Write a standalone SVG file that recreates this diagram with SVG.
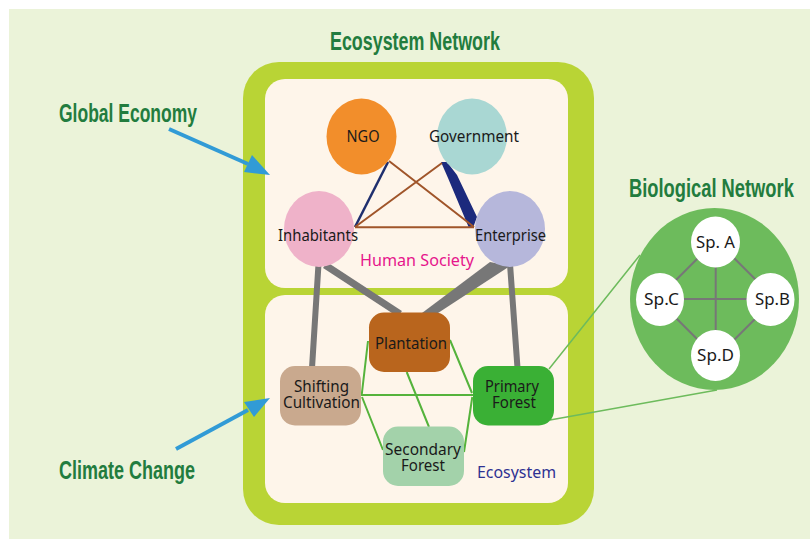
<svg xmlns="http://www.w3.org/2000/svg" width="810" height="540" viewBox="0 0 810 540">
<style>
.t{font-family:"Noto Sans","Open Sans","Liberation Sans",sans-serif;font-size:15.5px;fill:#1a1a1a;text-anchor:middle}
.s{font-family:"Noto Sans","Open Sans","Liberation Sans",sans-serif;font-size:16.5px}
.h{font-family:"Liberation Sans",sans-serif;font-weight:700;font-size:25px;fill:#227c3e}
.g{stroke:#777;fill:none}
.br{stroke:#a0552a;stroke-width:2;fill:none}
.gr{stroke:#55b33c;stroke-width:2;fill:none}
.sp{stroke:#777;stroke-width:2;fill:none}
.lk{stroke:#6dbb5c;stroke-width:1.5;fill:none}
.w{fill:#fff}
.ar{fill:#319bd6}
.as{stroke:#319bd6;stroke-width:4;fill:none}
</style>
<rect width="810" height="540" fill="#fff"/>
<rect x="9" y="9" width="801" height="530" fill="#ebf3d9"/>
<rect x="243" y="62" width="351" height="463" rx="36" fill="#b9d435"/>
<rect x="265" y="79" width="303" height="209" rx="20" fill="#fef5ea"/>
<rect x="265" y="295" width="303" height="208" rx="20" fill="#fef5ea"/>
<g id="connectors">
<path class="lk" d="M549 369L640 255M550 420L717 390"/>
<path class="g" stroke-width="6" d="M318.500 264L312 368M510 264L517.500 368"/>
<path class="g" stroke-width="7" d="M325 265L400 314"/>
<path d="M422 313H438L510 266L490 262Z" fill="#777"/>
<path d="M388 162L355 227" stroke="#1f2f6e" stroke-width="2.500" fill="none"/>
<path d="M441 162L447 162L457 175L477 217L473 228L469 228L448 178Z" fill="#1c2a7d"/>
<path class="br" d="M389 161L474 227M442 163L355 227M355 227.300H474"/>
<path class="gr" d="M368 341L361.700 395M450 340L472 393M361 395H473M362 397L383 450M406.700 372L429 427M472.300 397L464 452"/>
<path class="as" d="M169 129L248 164"/>
<path class="ar" d="M270 175L244 172L252 155Z"/>
<path class="as" d="M176 449L248 410"/>
<path class="ar" d="M270 398L254 417L244 402Z"/>
</g>
<g id="ngo"><ellipse cx="361.500" cy="136.500" rx="35" ry="38" fill="#f28e2b"/><text class="t" x="363" y="142" textLength="33" lengthAdjust="spacingAndGlyphs">NGO</text></g>
<g id="government"><ellipse cx="472" cy="136.500" rx="35" ry="38" fill="#a9d7d3"/><text class="t" x="474" y="142" textLength="90" lengthAdjust="spacingAndGlyphs">Government</text></g>
<g id="inhabitants"><ellipse cx="319" cy="229" rx="35" ry="38" fill="#efb2c9"/><text class="t" x="318" y="241" textLength="80" lengthAdjust="spacingAndGlyphs">Inhabitants</text></g>
<g id="enterprise"><ellipse cx="510" cy="229" rx="35" ry="38" fill="#b6b7db"/><text class="t" x="510.500" y="241" textLength="71" lengthAdjust="spacingAndGlyphs">Enterprise</text></g>
<g id="plantation"><rect x="369" y="312.500" width="81" height="59.500" rx="15" fill="#b9651d"/><text class="t" x="411" y="349" textLength="72" lengthAdjust="spacingAndGlyphs">Plantation</text></g>
<g id="shifting"><rect x="280" y="366" width="81" height="59.500" rx="15" fill="#c9a98e"/><text class="t"><tspan x="321.500" y="392" textLength="55" lengthAdjust="spacingAndGlyphs">Shifting</tspan><tspan x="321.500" y="408" textLength="77" lengthAdjust="spacingAndGlyphs">Cultivation</tspan></text></g>
<g id="primary"><rect x="473" y="366" width="81" height="59.500" rx="15" fill="#3ab035"/><text class="t"><tspan x="512" y="392" textLength="54" lengthAdjust="spacingAndGlyphs">Primary</tspan><tspan x="514" y="408" textLength="44" lengthAdjust="spacingAndGlyphs">Forest</tspan></text></g>
<g id="secondary"><rect x="383" y="426.500" width="81" height="59.500" rx="15" fill="#a3d2aa"/><text class="t"><tspan x="423" y="455" textLength="76" lengthAdjust="spacingAndGlyphs">Secondary</tspan><tspan x="423" y="471" textLength="44" lengthAdjust="spacingAndGlyphs">Forest</tspan></text></g>
<text class="s" x="417" y="266" fill="#e6168c" text-anchor="middle" textLength="114" lengthAdjust="spacingAndGlyphs">Human Society</text>
<text class="s" x="516.500" y="478" fill="#2e3192" text-anchor="middle" textLength="79" lengthAdjust="spacingAndGlyphs">Ecosystem</text>
<text class="h" transform="translate(330 50) scale(.7155 1)">Ecosystem Network</text>
<text class="h" transform="translate(59 122) scale(.7 1)">Global Economy</text>
<text class="h" transform="translate(59 479) scale(.72 1)">Climate Change</text>
<text class="h" transform="translate(629 197) scale(.733 1)">Biological Network</text>
<g id="bio"><ellipse cx="714.500" cy="299" rx="84.500" ry="91" fill="#6dbb5c"/>
<path class="sp" d="M715.700 240V358M661 299H772M698 258L674 282M734 258L758 282M698 340L674 316M734 340L758 316"/></g>
<g id="spa"><ellipse cx="715.500" cy="242" rx="24.500" ry="25.500" class="w"/><text class="t" x="715.500" y="248" textLength="39" lengthAdjust="spacingAndGlyphs">Sp. A</text></g>
<g id="spb"><ellipse cx="770.500" cy="299.500" rx="24" ry="26.500" class="w"/><text class="t" x="772.500" y="305" textLength="35" lengthAdjust="spacingAndGlyphs">Sp.B</text></g>
<g id="spc"><ellipse cx="660" cy="299.500" rx="24" ry="26.500" class="w"/><text class="t" x="661.500" y="305" textLength="35" lengthAdjust="spacingAndGlyphs">Sp.C</text></g>
<g id="spd"><ellipse cx="715.500" cy="355.500" rx="24.500" ry="25.500" class="w"/><text class="t" x="715.500" y="361" textLength="37" lengthAdjust="spacingAndGlyphs">Sp.D</text></g>
</svg>
